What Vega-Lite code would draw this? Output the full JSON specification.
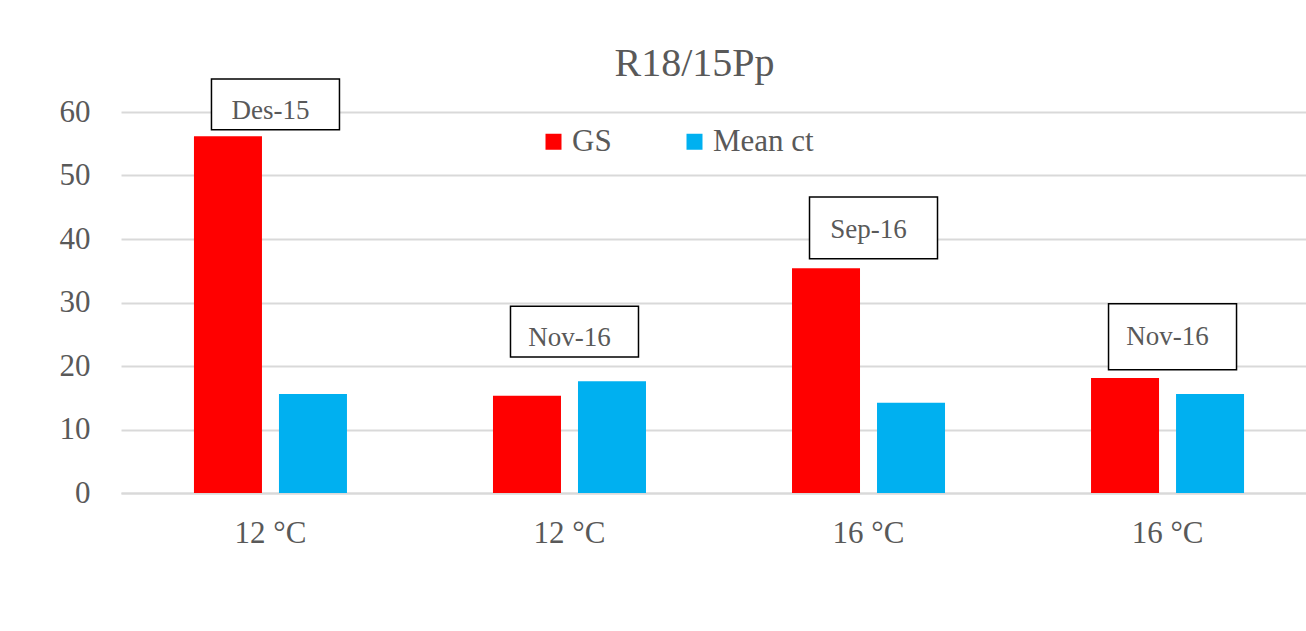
{
  "$schema": "https://vega.github.io/schema/vega-lite/v6.json",
  "autosize": {"type": "none"},
  "padding": {"left": 121, "top": 112, "right": 0, "bottom": 138},
  "width": 1185,
  "height": 381,
  "background": "white",
  "title": {
    "text": "R18/15Pp",
    "font": "Liberation Serif",
    "fontSize": 40,
    "fontWeight": "normal",
    "color": "#595959",
    "anchor": "middle",
    "frame": "group",
    "dx": -19,
    "offset": -6
  },
  "datasets": {
    "bars": [
      {"group": "12 °C (Des-15)", "series": "GS", "value": 56.2},
      {"group": "12 °C (Des-15)", "series": "Mean ct", "value": 15.6},
      {"group": "12 °C (Nov-16)", "series": "GS", "value": 15.3},
      {"group": "12 °C (Nov-16)", "series": "Mean ct", "value": 17.6},
      {"group": "16 °C (Sep-16)", "series": "GS", "value": 35.4},
      {"group": "16 °C (Sep-16)", "series": "Mean ct", "value": 14.2},
      {"group": "16 °C (Nov-16)", "series": "GS", "value": 18.1},
      {"group": "16 °C (Nov-16)", "series": "Mean ct", "value": 15.6}
    ],
    "notes": [
      {"group": "12 °C (Des-15)", "label": "Des-15", "top": 65.2, "bottom": 57.2, "texty": 60.2},
      {"group": "12 °C (Nov-16)", "label": "Nov-16", "top": 29.4, "bottom": 21.4, "texty": 24.4},
      {"group": "16 °C (Sep-16)", "label": "Sep-16", "top": 46.6, "bottom": 36.9, "texty": 41.4},
      {"group": "16 °C (Nov-16)", "label": "Nov-16", "top": 29.8, "bottom": 19.4, "texty": 24.6}
    ]
  },
  "layer": [
    {
      "data": {"name": "bars"},
      "mark": {"type": "bar"},
      "encoding": {
        "x": {
          "field": "group",
          "type": "nominal",
          "sort": null,
          "scale": {"range": [0, 1196], "paddingInner": 0.4883, "paddingOuter": 0.244},
          "axis": {
            "title": null,
            "labelExpr": "split(datum.value, ' (')[0]",
            "labelAngle": 0,
            "labelFont": "Liberation Serif",
            "labelFontSize": 31,
            "labelColor": "#595959",
            "labelPadding": 25,
            "ticks": false,
            "domain": true,
            "domainColor": "#d9d9d9",
            "domainWidth": 2,
            "grid": false
          }
        },
        "xOffset": {
          "field": "series",
          "type": "nominal",
          "scale": {"paddingInner": 0.2, "paddingOuter": 0}
        },
        "y": {
          "field": "value",
          "type": "quantitative",
          "scale": {"domain": [0, 60], "nice": false},
          "axis": {
            "title": null,
            "values": [0, 10, 20, 30, 40, 50, 60],
            "labelFont": "Liberation Serif",
            "labelFontSize": 31,
            "labelColor": "#595959",
            "labelPadding": 31,
            "ticks": false,
            "domain": false,
            "grid": true,
            "gridColor": "#d9d9d9",
            "gridWidth": 2
          }
        },
        "color": {
          "field": "series",
          "type": "nominal",
          "scale": {"domain": ["GS", "Mean ct"], "range": ["#FF0000", "#00B0F0"]},
          "legend": {
            "title": null,
            "orient": "none",
            "direction": "horizontal",
            "legendX": 417,
            "legendY": 14,
            "padding": 0,
            "symbolType": "square",
            "symbolSize": 256,
            "symbolStrokeWidth": 0,
            "labelFont": "Liberation Serif",
            "labelFontSize": 31,
            "labelColor": "#595959",
            "labelOffset": 3,
            "columnPadding": 67
          }
        }
      }
    },
    {
      "data": {"name": "notes"},
      "mark": {"type": "bar", "width": 128, "fill": "white", "stroke": "black", "strokeWidth": 1.5, "xOffset": 5},
      "encoding": {
        "x": {"field": "group", "type": "nominal", "sort": null},
        "y": {"field": "top", "type": "quantitative"},
        "y2": {"field": "bottom"}
      }
    },
    {
      "data": {"name": "notes"},
      "mark": {"type": "text", "font": "Liberation Serif", "fontSize": 27, "color": "#595959"},
      "encoding": {
        "x": {"field": "group", "type": "nominal", "sort": null},
        "y": {"field": "texty", "type": "quantitative"},
        "text": {"field": "label"}
      }
    }
  ],
  "config": {"view": {"stroke": null}}
}
